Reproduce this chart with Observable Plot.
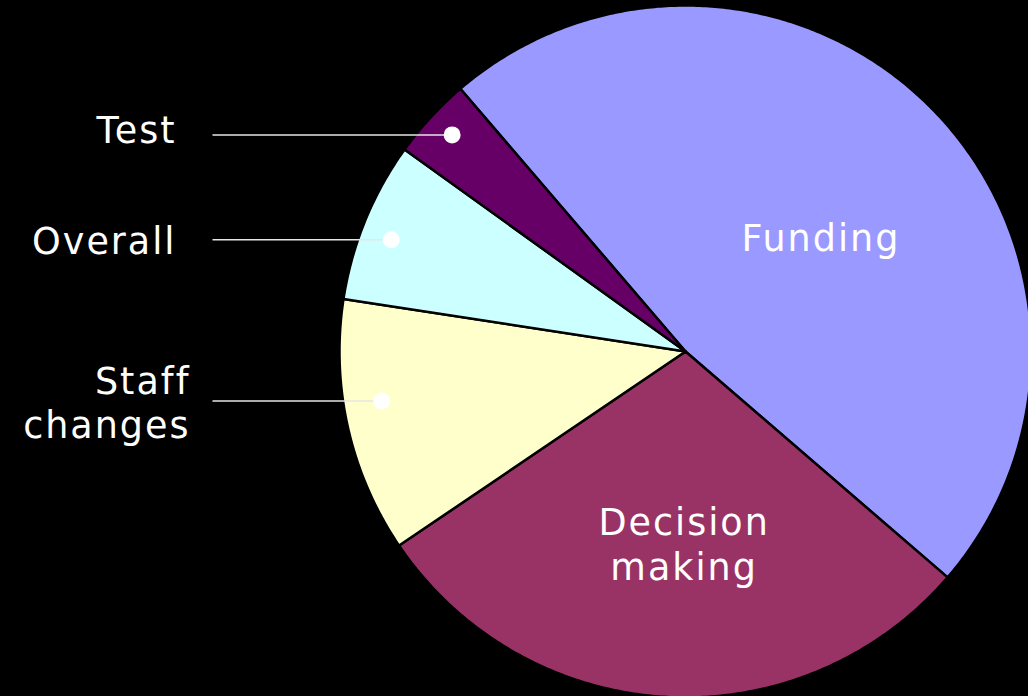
<!DOCTYPE html>
<html>
<head>
<meta charset="utf-8">
<script src="https://cdn.jsdelivr.net/npm/d3@7"></script>
<script src="https://cdn.jsdelivr.net/npm/@observablehq/plot@0.6"></script>
<style>
  html, body { margin: 0; padding: 0; background: #000; }
  #chart svg { display: block; background: #000; }
  #chart svg text { letter-spacing: 2px; }
</style>
</head>
<body>
<div id="chart"></div>
<script>
// ---- data ----
const categories = ["Funding", "Decision making", "Staff changes", "Overall", "Test"];
const labels = ["Funding", "Decision\nmaking", "Staff\nchanges", "Overall", "Test"];
const values = [47.6, 29.2, 11.9, 7.5, 3.8];
const colors = ["#9999ff", "#993366", "#ffffcc", "#ccffff", "#660066"];
const outsideLabel = [false, false, true, true, true];

// ---- layout (pixel geometry only) ----
const W = 1028, H = 696;
const cx = 685, cy = 351, R = 346;
const X = px => (px - cx) / R;
const Y = py => (cy - py) / R;
const startDeg = -40.6;
// pixel nudges for label placement: [dotDx, dotDy, textRight, textDy] or [dx, dy] for inside labels
const nudge = {
  "Funding": [8, 12],
  "Decision making": [9, 12],
  "Staff changes": [0, -19, 190, 1],
  "Overall": [-6, 6, 176, 0],
  "Test": [-4, -6, 176, -6]
};

const arcs = d3.pie().sort(null)
  .startAngle(startDeg * Math.PI / 180)
  .endAngle(startDeg * Math.PI / 180 + 2 * Math.PI)(values);

const slices = arcs.map((a, i) => ({...a, key: categories[i], label: labels[i], color: colors[i], outside: outsideLabel[i]}));

const poly = [];
for (const s of slices) {
  poly.push({key: s.key, x: 0, y: 0});
  const n = Math.max(2, Math.ceil((s.endAngle - s.startAngle) / (Math.PI / 360)));
  for (let k = 0; k <= n; k++) {
    const t = s.startAngle + (s.endAngle - s.startAngle) * k / n;
    poly.push({key: s.key, x: Math.sin(t), y: Math.cos(t)});
  }
  poly.push({key: s.key, x: 0, y: 0});
}

const mid = s => (s.startAngle + s.endAngle) / 2;
const inside = slices.filter(s => !s.outside).map(s => {
  const [nx, ny] = nudge[s.key];
  return {label: s.label, x: 0.52 * Math.sin(mid(s)) + nx / R, y: 0.52 * Math.cos(mid(s)) - ny / R};
});
const outside = slices.filter(s => s.outside).map(s => {
  const [nx, ny, tr, ty] = nudge[s.key];
  const dx = 0.9 * Math.sin(mid(s)) + nx / R, dy = 0.9 * Math.cos(mid(s)) - ny / R;
  return {label: s.label, dx, dy, lx: X(212), tx: X(tr), ty: dy - ty / R};
});

const chart = Plot.plot({
  width: W, height: H,
  margin: 0,
  x: {domain: [X(0), X(W)], range: [0, W], axis: null},
  y: {domain: [Y(H), Y(0)], range: [H, 0], axis: null},
  color: {domain: categories, range: colors},
  style: {background: "#000"},
  marks: [
    Plot.line(poly, {x: "x", y: "y", z: "key", fill: "key", stroke: "#000", strokeWidth: 2.5, strokeLinejoin: "round", curve: "linear"}),
    Plot.text(inside, {x: "x", y: "y", text: "label", fill: "#fff", fontSize: 36.5, fontFamily: "DejaVu Sans", lineHeight: 1.22}),
    Plot.link(outside, {x1: "lx", y1: "dy", x2: "dx", y2: "dy", stroke: "#e6e6e6", strokeWidth: 1.5}),
    Plot.dot(outside, {x: "dx", y: "dy", r: 8.5, fill: "#fff"}),
    Plot.text(outside, {x: "tx", y: "ty", text: "label", textAnchor: "end", fill: "#fff", fontSize: 36.5, fontFamily: "DejaVu Sans", lineHeight: 1.22})
  ]
});
document.getElementById("chart").append(chart);
</script>
</body>
</html>
